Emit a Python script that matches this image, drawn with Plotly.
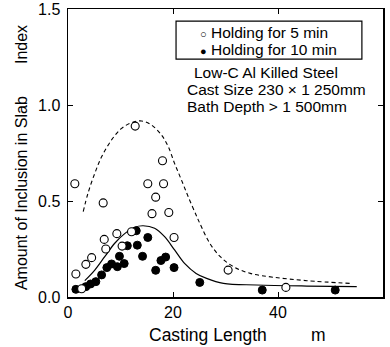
import plotly.graph_objects as go

# Data
open_x = [1.3, 1.5, 2.6, 3.4, 4.5, 6.7, 6.9, 7.2, 9.3, 10.3, 12.1, 12.8, 15.2, 16.0, 16.7, 18.0, 18.2, 19.2, 20.2, 30.5, 41.5]
open_y = [0.59, 0.12, 0.043, 0.17, 0.205, 0.49, 0.30, 0.25, 0.33, 0.265, 0.34, 0.89, 0.59, 0.434, 0.52, 0.71, 0.59, 0.44, 0.31, 0.14, 0.05]

filled_x = [1.5, 3.4, 4.3, 5.3, 6.4, 7.4, 8.3, 9.4, 9.8, 10.7, 11.3, 13.0, 13.2, 14.2, 15.2, 16.7, 17.7, 18.6, 20.2, 25.1, 37.0, 50.9]
filled_y = [0.04, 0.054, 0.068, 0.08, 0.115, 0.153, 0.172, 0.158, 0.212, 0.174, 0.267, 0.345, 0.27, 0.212, 0.31, 0.139, 0.19, 0.208, 0.153, 0.076, 0.036, 0.036]

dash_x = [2.9, 3.8, 5.1, 6.4, 8.3, 10.2, 12.1, 14.0, 15.9, 17.8, 19.1, 20.3, 21.6, 22.9, 24.4, 25.1, 27.0, 29.0, 31.5, 34.7, 39.1, 45.5, 53.7]
dash_y = [0.445, 0.54, 0.644, 0.73, 0.818, 0.878, 0.908, 0.917, 0.896, 0.844, 0.783, 0.696, 0.61, 0.522, 0.427, 0.384, 0.28, 0.21, 0.158, 0.123, 0.103, 0.085, 0.071]

solid_x = [3.2, 5.1, 7.0, 8.9, 10.8, 12.7, 14.3, 16.5, 18.4, 20.3, 22.2, 24.4, 26.4, 29.6, 35.9, 45.5, 55.0]
solid_y = [0.085, 0.14, 0.21, 0.28, 0.33, 0.363, 0.371, 0.358, 0.314, 0.245, 0.175, 0.123, 0.097, 0.071, 0.0625, 0.057, 0.054]

legend_names = ["Holding for 5 min", "Holding for 10 min"]
note_lines = ["Low-C Al Killed Steel", "Cast Size 230 × 1 250mm", "Bath Depth > 1 500mm"]

FONT = "Liberation Sans, Arial, sans-serif"
BLACK = "black"
fig = go.Figure()

fig.add_trace(go.Scatter(x=dash_x, y=dash_y, mode="lines", line=dict(color=BLACK, width=1.1, dash="4px,3px", shape="spline"), showlegend=False, hoverinfo="skip"))
fig.add_trace(go.Scatter(x=solid_x, y=solid_y, mode="lines", line=dict(color=BLACK, width=1.2, shape="spline"), showlegend=False, hoverinfo="skip"))
fig.add_trace(go.Scatter(x=filled_x, y=filled_y, mode="markers", name=legend_names[1], showlegend=False,
                         marker=dict(symbol="circle", size=8, color=BLACK, line=dict(color=BLACK, width=1))))
fig.add_trace(go.Scatter(x=open_x, y=open_y, mode="markers", name=legend_names[0], showlegend=False,
                         marker=dict(symbol="circle", size=8, color="white", line=dict(color=BLACK, width=1.1))))

axis_common = dict(showline=True, linecolor=BLACK, linewidth=1.5, mirror="ticks", ticks="inside", ticklen=5,
                   tickwidth=1, tickcolor=BLACK, showgrid=False, zeroline=False, automargin=False,
                   tickfont=dict(family=FONT, size=16, color=BLACK))
fig.update_xaxes(range=[0, 60], tickvals=[0, 20, 40, 60], ticktext=["0", "20", "40", "60"], **axis_common)
fig.update_yaxes(range=[0, 1.5], tickvals=[0, 0.5, 1.0, 1.5], ticktext=["0.0", "0.5", "1.0", "1.5"],
                 ticklabelstandoff=3, **axis_common)

def ann(text, x, y, size, xanchor="center", angle=0):
    return dict(text=text, x=x, y=y, xref="paper", yref="paper", xanchor=xanchor, yanchor="middle",
                textangle=angle, showarrow=False, borderpad=0, font=dict(family=FONT, size=size, color=BLACK))

anns = [
    ann("Casting Length", 0.444, -0.132, 17.5),
    ann("m", 0.794, -0.132, 17.5),
    ann("Amount of Inclusion in Slab", -0.149, 0.361, 16, angle=-90),
    ann("Index", -0.149, 0.875, 16, angle=-90),
    ann(note_lines[0], 0.397, 0.778, 15.5, xanchor="left"),
    ann(note_lines[1], 0.3746, 0.719, 15.5, xanchor="left"),
    ann(note_lines[2], 0.3746, 0.660, 15.5, xanchor="left"),
    # legend entries
    ann('<span style="font-size:11px">○</span> ' + legend_names[0], 0.416, 0.917, 15.5, xanchor="left"),
    ann('<span style="font-size:11px">●</span> ' + legend_names[1], 0.416, 0.861, 15.5, xanchor="left"),
]

fig.update_layout(
    width=390, height=347,
    margin=dict(l=68, r=7, t=9, b=50),
    paper_bgcolor="white", plot_bgcolor="white",
    showlegend=False,
    annotations=anns,
    shapes=[dict(type="rect", xref="paper", yref="paper", x0=0.343, x1=0.933, y0=0.826, y1=0.958,
                 line=dict(color=BLACK, width=1.2), fillcolor="rgba(0,0,0,0)", layer="above")],
    font=dict(family=FONT, color=BLACK),
)

fig.write_html("out.html", config={"displayModeBar": False, "staticPlot": True},
               post_script="document.body.style.margin='0px';")
